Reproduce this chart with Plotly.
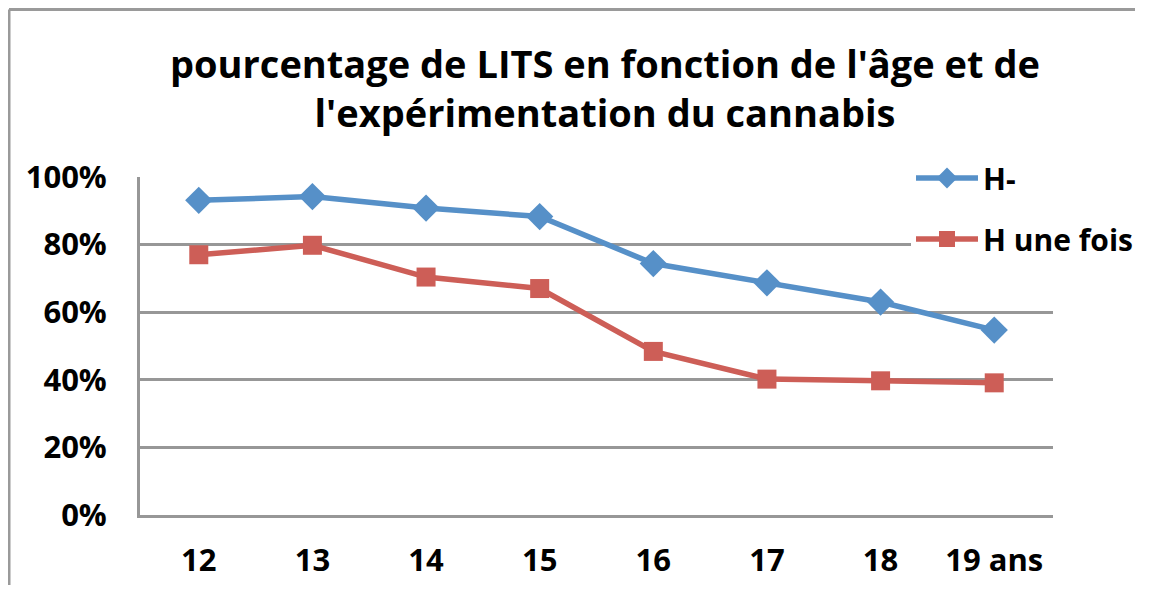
import plotly.graph_objects as go

ages = ["12", "13", "14", "15", "16", "17", "18", "19 ans"]
h_moins = [0.931, 0.942, 0.908, 0.883, 0.744, 0.687, 0.630, 0.547]
h_une_fois = [0.770, 0.798, 0.704, 0.670, 0.484, 0.402, 0.397, 0.391]
y_ticks = [0, 0.2, 0.4, 0.6, 0.8, 1.0]

FONT = "Open Sans"
BLUE = "#5690C8"
RED = "#CD5E57"
GRID = "#979797"
BORDER = "#9a9a9a"

# page body adds an 8px margin; figure kept a little smaller so no scrollbars appear
W, H = 1127, 577
L, T = 132, 169
R, B = W - 1045, H - 507
PW, PH = W - L - R, H - T - B

fig = go.Figure()
fig.add_trace(go.Scatter(
    x=ages, y=h_moins, name="H-", mode="lines+markers", legendgroup="a",
    line=dict(color=BLUE, width=5.5),
    marker=dict(symbol="diamond", size=21, color=BLUE),
))
fig.add_trace(go.Scatter(
    x=ages, y=h_une_fois, name="H une fois", mode="lines+markers", legendgroup="b",
    line=dict(color=RED, width=5.5),
    marker=dict(symbol="square", size=19, color=RED),
))

# outer chart frame (left and top edges are the only ones inside the picture)
fx0 = (1 - L) / PW
fy1 = (PH + T - 1.5) / PH
fx1 = (W + 20 - L) / PW
fy0 = -(B + 20) / PH

fig.update_layout(
    width=W, height=H,
    margin=dict(l=L, r=R, t=T, b=B, autoexpand=False),
    paper_bgcolor="white", plot_bgcolor="white",
    font=dict(family=FONT, color="black"),
    title=dict(
        text="<b>pourcentage de LITS en fonction de l'âge et de<br>l'expérimentation du cannabis</b>",
        x=597 / W, xanchor="center", y=1 - 70 / H, yanchor="top",
        font=dict(family=FONT, size=38, color="black"),
    ),
    showlegend=True,
    legend=dict(
        x=(903 - L) / PW, y=(PH - (172 - T) + 28) / PH, xanchor="left", yanchor="top",
        bgcolor="white", borderwidth=0, traceorder="grouped",
        font=dict(family=FONT, size=30, color="black", weight="bold"),
        tracegroupgap=19, itemwidth=62,
    ),
    xaxis=dict(
        type="category", showgrid=False, showline=True, linecolor=GRID, linewidth=3,
        ticks="", tickfont=dict(family=FONT, size=31, color="black", weight="bold"),
        ticklabelstandoff=16,
    ),
    yaxis=dict(
        range=[0, 1], tickvals=y_ticks, tickformat=".0%",
        showgrid=True, gridcolor=GRID, gridwidth=3,
        showline=True, linecolor=GRID, linewidth=3, zeroline=False,
        ticks="", tickfont=dict(family=FONT, size=31, color="black", weight="bold"),
        ticklabelstandoff=24,
    ),
    shapes=[
        dict(type="line", xref="paper", yref="paper", x0=fx0, x1=fx0, y0=fy0, y1=fy1,
             line=dict(color=BORDER, width=3), layer="below"),
        dict(type="line", xref="paper", yref="paper", x0=fx0, x1=fx1, y0=fy1, y1=fy1,
             line=dict(color=BORDER, width=3), layer="below"),
    ],
)

fig.write_html("out.html")
